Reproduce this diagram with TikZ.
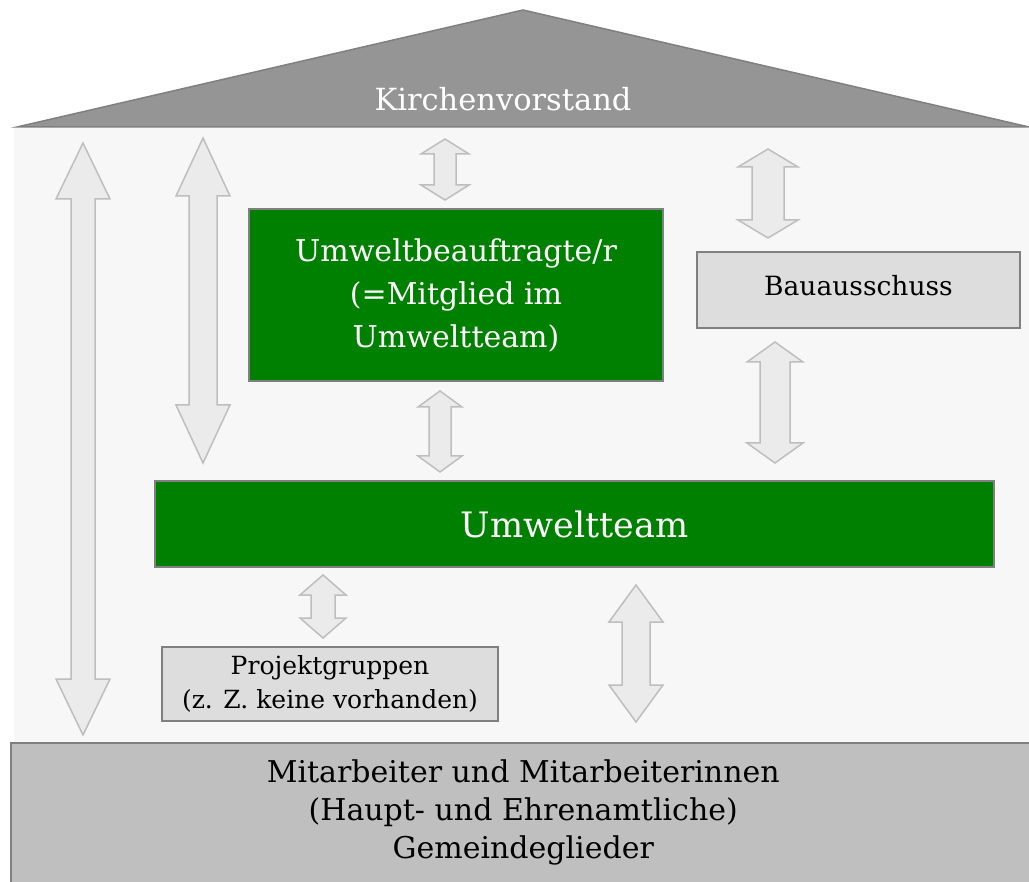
\documentclass[tikz,border=0pt]{standalone}
\usepackage{fontspec}
\setmainfont{DejaVu Serif}
\definecolor{RoofColor}{RGB}{149,149,149}
\definecolor{WallColor}{RGB}{247,247,247}
\definecolor{BaseColor}{RGB}{191,191,191}
\definecolor{TeamGreen}{RGB}{0,128,0}
\definecolor{BoxGray}{RGB}{221,221,221}
\definecolor{ArrowFill}{RGB}{235,235,235}
\definecolor{ArrowLine}{RGB}{190,190,190}
\definecolor{EdgeGray}{RGB}{128,128,128}
\usetikzlibrary{positioning}
\tikzstyle{greenbox} = [draw=EdgeGray, fill=TeamGreen, text=white, align=center, inner sep=0pt, line width=1.2pt]
\tikzstyle{graybox} = [draw=EdgeGray, fill=BoxGray, align=center, inner sep=0pt, line width=1.2pt]
\tikzstyle{blockarrow} = [draw=ArrowLine, fill=ArrowFill, line width=1.5pt, line join=miter]
\newcommand{\updown}[6]{%
  \draw[blockarrow] (#1,#2) -- (#1+#4,#2+#6) -- (#1+#5,#2+#6) -- (#1+#5,#3-#6) -- (#1+#4,#3-#6)
    -- (#1,#3) -- (#1-#4,#3-#6) -- (#1-#5,#3-#6) -- (#1-#5,#2+#6) -- (#1-#4,#2+#6) -- cycle;}

\begin{document}
\begin{tikzpicture}[x=1pt, y=-1pt]
                \useasboundingbox (0,0) rectangle (1029,882);

                \fill[WallColor] (14,127) rectangle (1029,742);
                \filldraw[fill=RoofColor, draw=EdgeGray, line width=1.5pt] (17,127) -- (523,10) -- (1029,127) -- cycle;
                \node[text=white, font=\fontsize{30.5}{36}\selectfont] (vorstand) at (503,99) {Kirchenvorstand};

                \node[draw=EdgeGray, fill=BaseColor, line width=1.5pt, minimum width=1025pt, minimum height=140pt, inner sep=0pt,
                      anchor=north west, align=center, font=\fontsize{30}{38}\selectfont] (mitarbeiter) at (10,742)
                      {Mitarbeiter und Mitarbeiterinnen\\(Haupt- und Ehrenamtliche)\\Gemeindeglieder};

                \node[greenbox, minimum width=414pt, minimum height=172pt, font=\fontsize{30}{43}\selectfont] (beauftragte) at (456,295)
                      {Umweltbeauftragte/r\\(=Mitglied im\\Umweltteam)};
                \node[graybox, minimum width=323pt, minimum height=76pt, font=\fontsize{26.5}{30}\selectfont] (bau) at (858.5,290)
                      {\raisebox{9pt}{Bauausschuss}};
                \node[greenbox, minimum width=839pt, minimum height=86pt, font=\fontsize{35}{40}\selectfont] (team) at (574.5,524) {Umweltteam};
                \node[graybox, minimum width=336pt, minimum height=74pt, font=\fontsize{25}{34}\selectfont] (projekt) at (330,684)
                      {Projektgruppen\\(z. Z. keine vorhanden)};

                \updown{83}{143}{735}{27}{12}{56}
                \updown{203}{138}{463}{27}{14}{58}
                \updown{445}{139}{200}{24}{11}{15}
                \updown{768}{149}{238}{30}{16}{18}
                \updown{775}{342}{463}{28}{15}{20}
                \updown{440}{391}{472}{22}{11}{16}
                \updown{323}{575}{638}{23}{12}{20}
                \updown{636}{585}{722}{27}{14}{37}
            \end{tikzpicture}
\end{document}
